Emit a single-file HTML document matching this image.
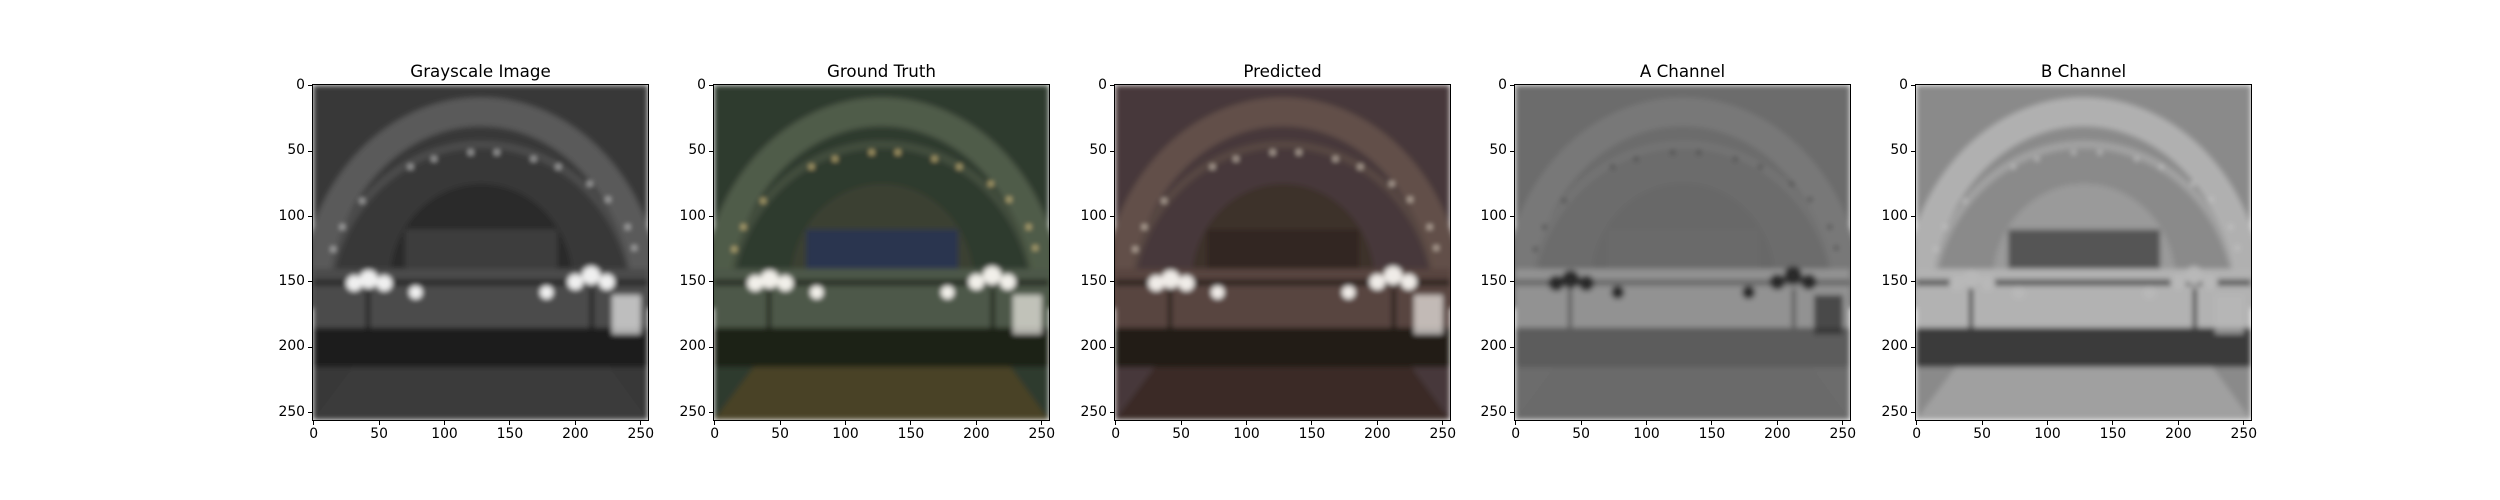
<!DOCTYPE html>
<html><head><meta charset="utf-8">
<style>
html,body{margin:0;padding:0;background:#fff;}
#fig{position:relative;width:2500px;height:500px;background:#fff;font-family:"DejaVu Sans","Liberation Sans",sans-serif;}
</style></head>
<body>
<div id="fig"></div>
<script>
const panelTitles = ["Grayscale Image","Ground Truth","Predicted","A Channel","B Channel"];
const tickValues = [0,50,100,150,200,250];
const extentMin = -0.5, extentMax = 255.5;
const panelLefts = [313,714,1115,1515,1916];
const palettes = [
 {bg:"#383838",band:"#5a5a5a",inner:"#2c2c2c",wall:"#4c4c4c",floor:"#3a3a3a",dark:"#1e1e1e",lamp:"#f0f0f0",dot:"#ddd",win:"#3c3c3c"},
 {bg:"#2f3a2e",band:"#505c48",inner:"#3a4030",wall:"#4e5848",floor:"#4a4226",dark:"#1b2018",lamp:"#f2f0ea",dot:"#f0d890",win:"#2c3450"},
 {bg:"#46383a",band:"#625048",inner:"#3e302a",wall:"#584440",floor:"#3a2c28",dark:"#221a18",lamp:"#f0ece8",dot:"#f0e0d0",win:"#302622"},
 {bg:"#6c6c6c",band:"#787878",inner:"#686868",wall:"#929292",floor:"#6a6a6a",dark:"#5c5c5c",lamp:"#2a2a2a",dot:"#333",win:"#6a6a6a"},
 {bg:"#8a8a8a",band:"#b0b0b0",inner:"#9a9a9a",wall:"#b2b2b2",floor:"#a0a0a0",dark:"#3a3a3a",lamp:"#b8b8b8",dot:"#ccc",win:"#555555"}
];
const size = 335, top0 = 85;
const fig = document.getElementById('fig');
const NS = "http://www.w3.org/2000/svg";
function sx(v){return (v-extentMin)/(extentMax-extentMin)*size;}

function scene(p){
  let s = `<rect x="-0.5" y="-0.5" width="256" height="256" fill="${p.bg}"/>`;
  s += `<path d="M-0.5 170 A128 150 0 0 1 255.5 170" fill="none" stroke="${p.band}" stroke-width="22"/>`;
  s += `<path d="M10 170 A118 125 0 0 1 246 170" fill="none" stroke="${p.band}" stroke-width="6" opacity="0.6"/>`;
  s += `<path d="M58 150 A70 75 0 0 1 198 150 Z" fill="${p.inner}"/>`;
  s += `<rect x="70" y="110" width="116" height="30" fill="${p.win}"/>`;
  s += `<rect x="-0.5" y="140" width="256" height="50" fill="${p.wall}"/>`;
  s += `<rect x="-0.5" y="148" width="256" height="5" fill="${p.dark}" opacity="0.7"/>`;
  s += `<rect x="-0.5" y="185" width="256" height="30" fill="${p.dark}"/>`;
  s += `<path d="M-0.5 255.5 L30 215 L226 215 L255.5 255.5 Z" fill="${p.floor}"/>`;
  s += `<rect x="228" y="160" width="22" height="30" fill="${p.lamp}" opacity="0.7"/>`;
  const dots=[[15,125],[22,108],[37,88],[74,62],[92,56],[120,51],[140,51],[168,56],[187,62],[211,75],[225,87],[240,108],[245,124]];
  dots.forEach(d=>{s+=`<circle cx="${d[0]}" cy="${d[1]}" r="1.5" fill="${p.dot}"/>`;});
  const lamps=[[42,148,7],[31,151,6],[54,151,6],[78,158,5],[178,158,5],[212,145,7],[200,150,6],[224,150,6]];
  lamps.forEach(l=>{s+=`<circle cx="${l[0]}" cy="${l[1]}" r="${l[2]}" fill="${p.lamp}"/>`;});
  s += `<rect x="40" y="155" width="3" height="60" fill="${p.dark}"/><rect x="211" y="155" width="3" height="60" fill="${p.dark}"/>`;
  return s;
}

panelTitles.forEach((t,i)=>{
  const left = panelLefts[i];
  const ax = document.createElement('div');
  
  
  ax.style.cssText = `position:absolute;left:${left}px;top:${top0}px;width:${size}px;height:${size}px;`;
  const svg = document.createElementNS(NS,'svg');
  svg.setAttribute('width',size);svg.setAttribute('height',size);
  svg.setAttribute('viewBox','-0.5 -0.5 256 256');
  svg.setAttribute('preserveAspectRatio','none');
  svg.style.cssText='position:absolute;left:0;top:0;';
  
  
  svg.innerHTML = `<defs><filter id="bl${i}"><feGaussianBlur stdDeviation="2"/></filter></defs><g filter="url(#bl${i})">${scene(palettes[i])}</g>`;
  ax.appendChild(svg);
  const frame = document.createElement('div');
  
  
  frame.style.cssText=`position:absolute;left:-1px;top:-1px;width:${size}px;height:${size}px;border:1px solid #000;`;
  ax.appendChild(frame);
  fig.appendChild(ax);

  const title = document.createElement('div');
  
  
  title.textContent = t;
  title.style.cssText=`position:absolute;left:${left}px;width:${size}px;top:61px;text-align:center;font-size:16.7px;color:#000;`;
  fig.appendChild(title);

  tickValues.forEach(v=>{
    const pos = sx(v);
    const xt = document.createElement('div');
    
    
    xt.style.cssText=`position:absolute;left:${left+pos-0.5}px;top:${top0+size}px;width:1px;height:5px;background:#000;`;
    fig.appendChild(xt);
    const xl = document.createElement('div');
    
    
    xl.textContent = v;
    xl.style.cssText=`position:absolute;left:${left+pos-30}px;width:60px;text-align:center;top:${top0+size+6}px;font-size:13.9px;color:#000;`;
    fig.appendChild(xl);
    const yt = document.createElement('div');
    
    
    yt.style.cssText=`position:absolute;left:${left-5}px;top:${top0+pos-0.5}px;width:5px;height:1px;background:#000;`;
    fig.appendChild(yt);
    const yl = document.createElement('div');
    
    
    yl.textContent = v;
    yl.style.cssText=`position:absolute;left:${left-68}px;width:60px;text-align:right;top:${top0+pos-9}px;font-size:13.9px;color:#000;`;
    fig.appendChild(yl);
  });
});
</script>
</body></html>
